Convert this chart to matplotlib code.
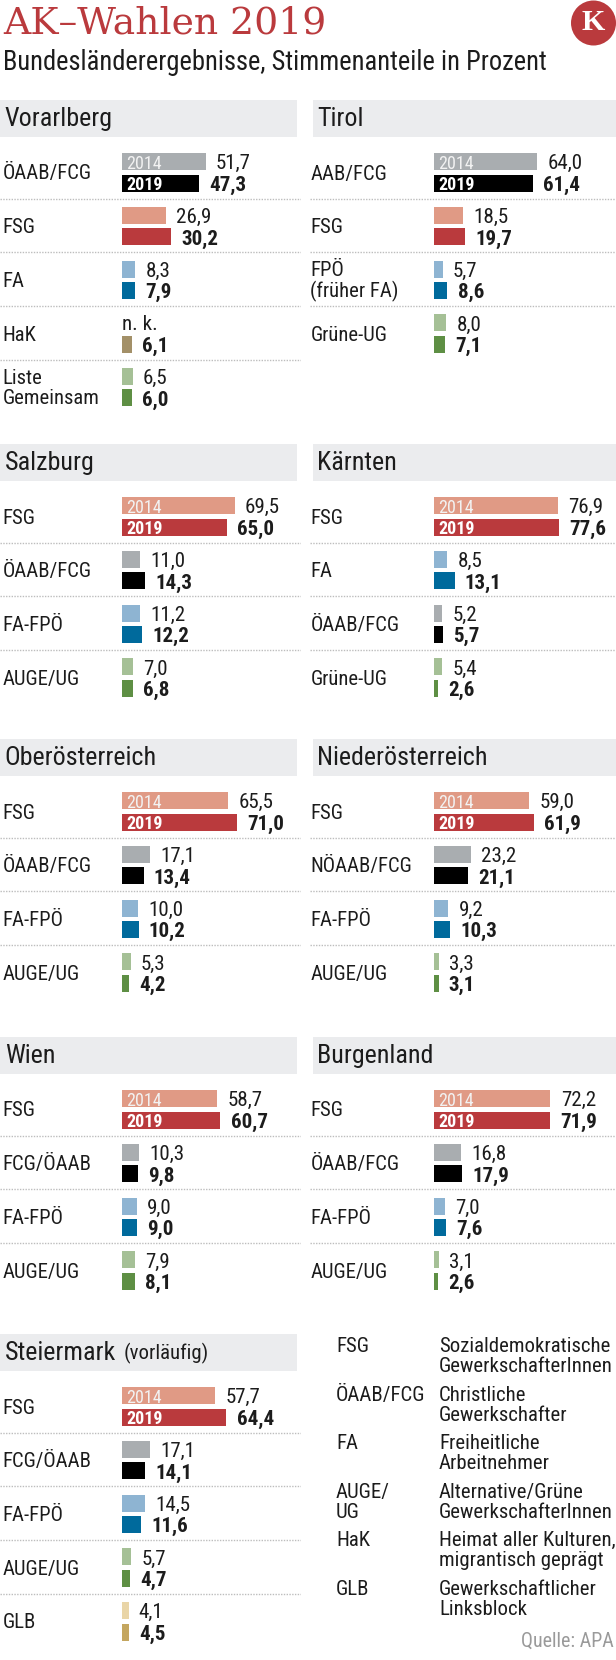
import matplotlib
matplotlib.use("Agg")
import matplotlib.pyplot as plt
from matplotlib import font_manager as fm
from matplotlib.patches import Rectangle, Ellipse

W, H, DPI = 616, 1660, 100
names = {f.name for f in fm.fontManager.ttflist}
NARROW = next(n for n in ["Liberation Sans Narrow", "Roboto Condensed", "Roboto"] if n in names)
plt.rcParams["font.family"] = [NARROW, "DejaVu Sans"]

VORARLBERG_PARTIES = ["ÖAAB/FCG", "FSG", "FA", "HaK", "Liste\nGemeinsam"]
VORARLBERG_2014 = [51.7, 26.9, 8.3, None, 6.5]
VORARLBERG_2019 = [47.3, 30.2, 7.9, 6.1, 6.0]
TIROL_PARTIES = ["AAB/FCG", "FSG", "FPÖ\n(früher FA)", "Grüne-UG"]
TIROL_2014 = [64.0, 18.5, 5.7, 8.0]
TIROL_2019 = [61.4, 19.7, 8.6, 7.1]
SALZBURG_PARTIES = ["FSG", "ÖAAB/FCG", "FA-FPÖ", "AUGE/UG"]
SALZBURG_2014 = [69.5, 11.0, 11.2, 7.0]
SALZBURG_2019 = [65.0, 14.3, 12.2, 6.8]
KAERNTEN_PARTIES = ["FSG", "FA", "ÖAAB/FCG", "Grüne-UG"]
KAERNTEN_2014 = [76.9, 8.5, 5.2, 5.4]
KAERNTEN_2019 = [77.6, 13.1, 5.7, 2.6]
OOE_PARTIES = ["FSG", "ÖAAB/FCG", "FA-FPÖ", "AUGE/UG"]
OOE_2014 = [65.5, 17.1, 10.0, 5.3]
OOE_2019 = [71.0, 13.4, 10.2, 4.2]
NOE_PARTIES = ["FSG", "NÖAAB/FCG", "FA-FPÖ", "AUGE/UG"]
NOE_2014 = [59.0, 23.2, 9.2, 3.3]
NOE_2019 = [61.9, 21.1, 10.3, 3.1]
WIEN_PARTIES = ["FSG", "FCG/ÖAAB", "FA-FPÖ", "AUGE/UG"]
WIEN_2014 = [58.7, 10.3, 9.0, 7.9]
WIEN_2019 = [60.7, 9.8, 9.0, 8.1]
BGLD_PARTIES = ["FSG", "ÖAAB/FCG", "FA-FPÖ", "AUGE/UG"]
BGLD_2014 = [72.2, 16.8, 7.0, 3.1]
BGLD_2019 = [71.9, 17.9, 7.6, 2.6]
STMK_PARTIES = ["FSG", "FCG/ÖAAB", "FA-FPÖ", "AUGE/UG", "GLB"]
STMK_2014 = [57.7, 17.1, 14.5, 5.7, 4.1]
STMK_2019 = [64.4, 14.1, 11.6, 4.7, 4.5]

LEGEND_KEYS = ["FSG", "ÖAAB/FCG", "FA", "AUGE/\nUG", "HaK", "GLB"]
LEGEND_TEXTS = ["Sozialdemokratische\nGewerkschafterInnen", "Christliche\nGewerkschafter",
                "Freiheitliche\nArbeitnehmer", "Alternative/Grüne\nGewerkschafterInnen",
                "Heimat aller Kulturen,\nmigrantisch geprägt", "Gewerkschaftlicher\nLinksblock"]

RED = "#BA3A3D"
def colours(party):
    p = party.replace("\n", " ")
    if p == "FSG": return "#E09A85", RED
    if "AAB" in p: return "#A9ADB0", "#000000"
    if p.startswith("FA") or p.startswith("FPÖ"): return "#8EB4D2", "#006A9C"
    if p == "HaK": return "#A39068", "#A39068"
    if p == "GLB": return "#E9D5A7", "#C4A65F"
    return "#A5C096", "#5E8F44"

fig = plt.figure(figsize=(W / DPI, H / DPI), dpi=DPI, facecolor="white")
def pts(px): return px * 72 / DPI
def fx(x): return x / W
def fy(y): return 1 - y / H

PITCH, BAR_H, BAR_OFF, SCALE = 53.7, 17.0, 10.7, 1.62
LABEL, VALUE, HEAD = pts(20.7), pts(21), pts(26)
INK = "#1c1c1c"

def panel(name, left, top, parties, v14, v19, suffix=None):
    is_left = left == 0
    hx0, hx1 = (0, 297) if is_left else (313, 616)
    sx0, sx1 = (0, 301) if is_left else (310, 616)
    bar0 = 122 if is_left else 433.5
    fig.add_artist(Rectangle((fx(hx0), fy(top + 37)), (hx1 - hx0) / W, 37 / H,
                             transform=fig.transFigure, fc="#EBECEE", ec="none"))
    tx = 4.6 if is_left else 317
    fig.text(fx(tx), fy(top + 25.6), name, fontsize=HEAD, color=INK, va="baseline")
    if suffix:
        fig.text(fx(tx + 119), fy(top + 25.6), suffix, fontsize=pts(20.8), color=INK, va="baseline")
    # axes: y unit = one row, x unit = one percentage point
    first = top + 72.5
    y0 = first - PITCH / 2
    ax = fig.add_axes([fx(sx0), fy(y0 + PITCH * len(parties)), (sx1 - sx0) / W, PITCH * len(parties) / H])
    ax.set_xlim((sx0 - bar0) / SCALE, (sx1 - bar0) / SCALE)
    ax.set_ylim(len(parties) - 0.5, -0.5)
    ax.axis("off")
    for i, p in enumerate(parties):
        c14, c19 = colours(p)
        a, b = v14[i], v19[i]
        y14, y19 = i - BAR_OFF / PITCH, i + BAR_OFF / PITCH
        if a is not None:
            ax.barh(y14, a, height=BAR_H / PITCH, color=c14)
            ax.annotate(f"{a:.1f}".replace(".", ","), (a, y14), xytext=(pts(10.2), 0),
                        textcoords="offset points", fontsize=VALUE, va="center_baseline", color=INK)
        else:
            ax.annotate("n. k.", (0, y14), fontsize=VALUE, va="center_baseline", color=INK)
        ax.barh(y19, b, height=BAR_H / PITCH, color=c19)
        ax.annotate(f"{b:.1f}".replace(".", ","), (b, y19), xytext=(pts(10.2), 0),
                    textcoords="offset points", fontsize=VALUE, fontweight="bold",
                    va="center_baseline", color=INK)
        lx = (2.5 if is_left else 310.5) - bar0
        ax.annotate(p, (lx / SCALE, i), xytext=(0, -pts(1.5)), textcoords="offset points",
                    fontsize=LABEL, va="center", color=INK, linespacing=1.05)
        if i == 0:
            ax.annotate("2014", (0, y14), xytext=(pts(4.5), 0), textcoords="offset points",
                        color="#F2F2F2", fontsize=pts(18), va="center_baseline")
            ax.annotate("2019", (0, y19), xytext=(pts(4.5), 0), textcoords="offset points",
                        color="white", fontsize=pts(18), fontweight="bold", va="center_baseline")
        if i < len(parties) - 1:
            ax.axhline(i + 0.488, color="#BDBDBD", lw=1.0, ls=(0, (1, 1)))

panel("Vorarlberg", 0, 100, VORARLBERG_PARTIES, VORARLBERG_2014, VORARLBERG_2019)
panel("Tirol", 1, 100, TIROL_PARTIES, TIROL_2014, TIROL_2019)
panel("Salzburg", 0, 444, SALZBURG_PARTIES, SALZBURG_2014, SALZBURG_2019)
panel("Kärnten", 1, 444, KAERNTEN_PARTIES, KAERNTEN_2014, KAERNTEN_2019)
panel("Oberösterreich", 0, 739, OOE_PARTIES, OOE_2014, OOE_2019)
panel("Niederösterreich", 1, 739, NOE_PARTIES, NOE_2014, NOE_2019)
panel("Wien", 0, 1037, WIEN_PARTIES, WIEN_2014, WIEN_2019)
panel("Burgenland", 1, 1037, BGLD_PARTIES, BGLD_2014, BGLD_2019)
panel("Steiermark", 0, 1334, STMK_PARTIES, STMK_2014, STMK_2019, suffix="(vorläufig)")

# title block
fig.text(fx(3), fy(33), "AK–Wahlen 2019", family=["DejaVu Serif"], fontsize=pts(37.8), color=RED, va="baseline")
fig.text(fx(3), fy(70.5), "Bundesländerergebnisse, Stimmenanteile in Prozent", fontsize=pts(26.5), color=INK, va="baseline")
fig.add_artist(Ellipse((fx(593.5), fy(23)), 45 / W, 45 / H, transform=fig.transFigure, fc=RED, ec="none"))
fig.text(fx(593.5), fy(23), "K", family=["Liberation Serif"], fontweight="bold", fontsize=pts(30),
         color="white", ha="center", va="center")

# glossary
for i, (k, d) in enumerate(zip(LEGEND_KEYS, LEGEND_TEXTS)):
    y = 1345 + 48.5 * i - 8
    fig.text(fx(336), fy(y), k, fontsize=pts(20.8), color=INK, va="top", linespacing=1.08)
    fig.text(fx(439), fy(y), d, fontsize=pts(20.8), color=INK, va="top", linespacing=1.08)
fig.text(fx(613.5), fy(1647), "Quelle: APA", fontsize=pts(20), color="#9A9A9A", ha="right", va="baseline")

fig.savefig("out.png", dpi=DPI)
